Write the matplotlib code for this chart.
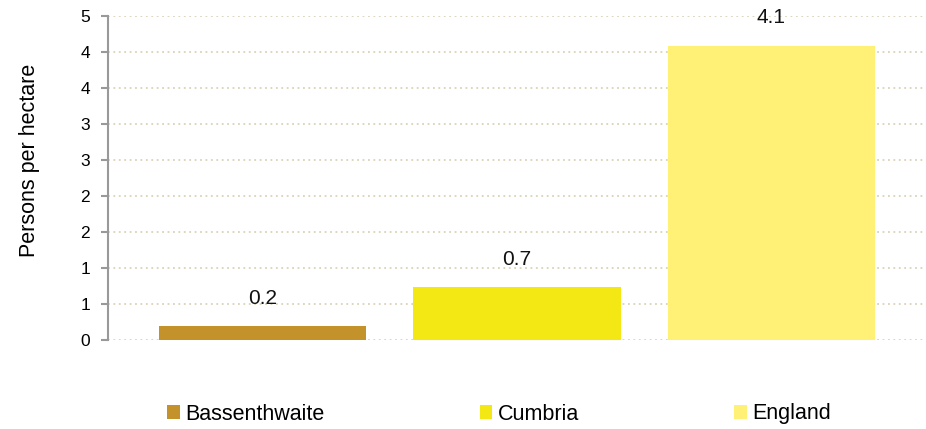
import numpy as np
import matplotlib.pyplot as plt

# chart data
areas = ['Bassenthwaite', 'Cumbria', 'England']
density = [0.19, 0.73, 4.09]
density_labels = ['0.2', '0.7', '4.1']
bar_colors = ['#C4922A', '#F3E813', '#FEF176']
ytick_vals = [0, 0.5, 1, 1.5, 2, 2.5, 3, 3.5, 4, 4.5]
ytick_labels = ['0', '1', '1', '2', '2', '3', '3', '4', '4', '5']

plt.rcParams['font.family'] = ['Liberation Sans', 'DejaVu Sans']

W, H = 926, 429
fig = plt.figure(figsize=(W / 100, H / 100), dpi=100)
ax = fig.add_axes([108 / W, 1 - 340 / H, (925 - 108) / W, (340 - 16) / H])

x = np.arange(len(areas))
bars = ax.bar(x, density, width=0.815, color=bar_colors, zorder=3)

for xi, v, lab in zip(x, density, density_labels):
    ax.annotate(lab, (xi, v), xytext=(0, 20), textcoords='offset points',
                ha='center', va='center', fontsize=15, color='#111111', zorder=4)

ax.set_xlim(-0.61, 2.606)
ax.set_ylim(0, 4.5)
ax.set_yticks(ytick_vals)
ax.set_yticklabels(ytick_labels, fontsize=12.5)
ax.set_xticks([])

# dotted grid
for yv in ytick_vals:
    ax.axhline(yv, color='#D9D3B8', linestyle=(0, (1, 2)), linewidth=1.3, zorder=1)

for s in ['top', 'right', 'bottom']:
    ax.spines[s].set_visible(False)
ax.spines['left'].set_color('#999999')
ax.spines['left'].set_linewidth(1.5)
ax.tick_params(axis='y', length=5, width=1.5, color='#999999', pad=8)

fig.text(30 / W, 1 - 160 / H, 'Persons per hectare', rotation=90,
         ha='center', va='center', fontsize=15.5)

# legend along the bottom
fig.legend(bars, areas, loc='center left', ncol=3,
           bbox_to_anchor=(167 / W, 1 - 414 / H), frameon=False,
           fontsize=15.5, handlelength=0.6, handleheight=0.65,
           handletextpad=0.25, columnspacing=7.2,
           borderpad=0, borderaxespad=0)

fig.savefig('out.png', dpi=100)
